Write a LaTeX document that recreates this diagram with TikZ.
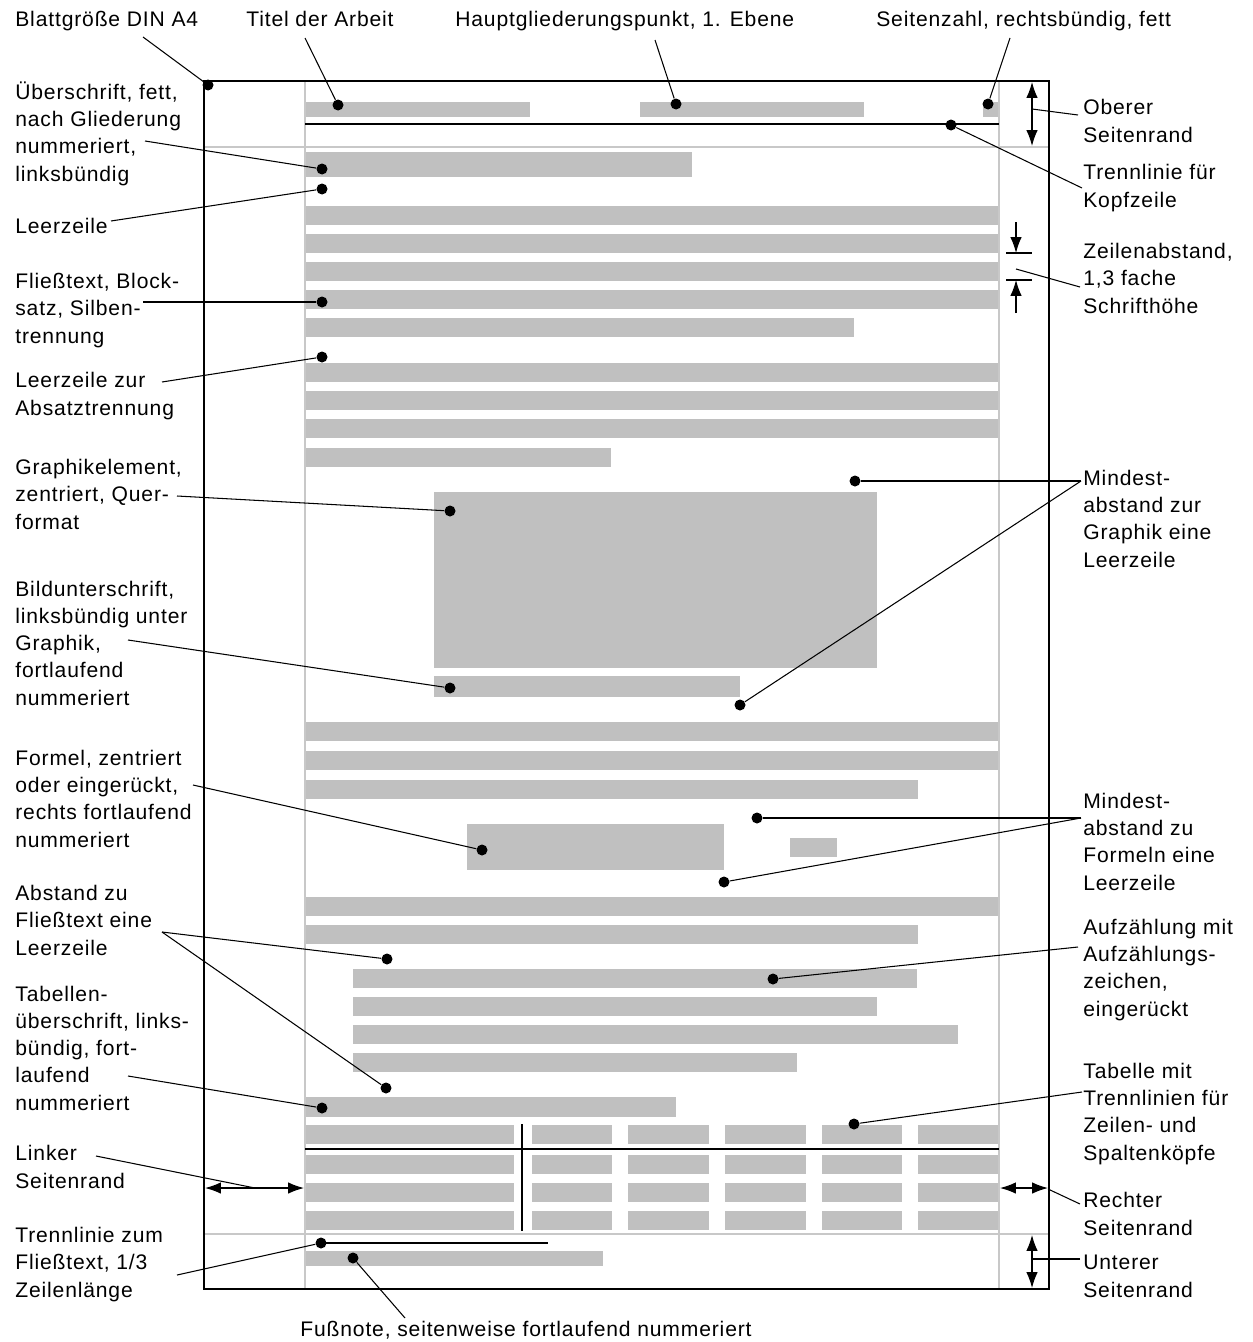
\documentclass[tikz,border=0pt]{standalone}
\usepackage{fontspec}
\setmainfont{Liberation Sans}[LetterSpace=4]
\usepackage{tikz}
\usetikzlibrary{arrows.meta,positioning,calc}

\definecolor{bargray}{RGB}{192,192,192}
\definecolor{guidegray}{RGB}{200,200,200}

\tikzset{
  bar/.style={fill=bargray},
  guide/.style={draw=guidegray, line width=0.6pt},
  dot/.style={circle, fill=black, inner sep=0pt, minimum size=0.22cm},
  lbl/.style={anchor=base west, align=left, inner sep=0pt, font=\fontsize{12pt}{15.5pt}\selectfont},
  lead/.style={draw, line width=0.6pt},
  dimarrow/.style={draw, line width=0.7pt, {Latex[length=9pt,width=6.5pt]}-{Latex[length=9pt,width=6.5pt]}},
  halfarrow/.style={draw, line width=0.7pt, -{Latex[length=9pt,width=6.5pt]}}
}

\begin{document}
\begin{tikzpicture}[x=0.02cm, y=-0.02cm]
        \useasboundingbox (0,0) rectangle (1252,1342);

        % kopfzeile
        \fill[bar] (305,102) rectangle (530,117);
        \fill[bar] (640,102) rectangle (864,117);
        \fill[bar] (983,102) rectangle (999,117);
        % ueberschrift
        \fill[bar] (305,152) rectangle (692,177);
        % fliesstext
        \foreach \ya in {206,234,262,290,363,391,419,722,751,897}
          \fill[bar] (305,\ya) rectangle (999,\ya+19);
        \fill[bar] (305,318) rectangle (854,337);
        \fill[bar] (305,448) rectangle (611,467);
        \fill[bar] (305,780) rectangle (918,799);
        \fill[bar] (305,925) rectangle (918,944);
        % graphik und bildunterschrift
        \fill[bar] (434,492) rectangle (877,668);
        \fill[bar] (434,676) rectangle (740,697);
        % formel
        \fill[bar] (467,824) rectangle (724,870);
        \fill[bar] (790,838) rectangle (837,857);
        % aufzaehlung
        \foreach \ya/\xb in {969/917,997/877,1025/958,1053/797}
          \fill[bar] (353,\ya) rectangle (\xb,\ya+19);
        % tabelle
        \fill[bar] (305,1097) rectangle (676,1117);
        \foreach \ya in {1125,1155,1183,1211}
          \foreach \xa/\xb in {305/514,532/612,628/709,725/806,822/902,918/999}
            \fill[bar] (\xa,\ya) rectangle (\xb,\ya+19);
        % fussnote
        \fill[bar] (305,1251) rectangle (603,1266);

        % satzspiegel
        \draw[guide] (305,81) -- (305,1289);
        \draw[guide] (999,81) -- (999,1289);
        \draw[guide] (204,147) -- (1049,147);
        \draw[guide] (204,1234) -- (1049,1234);
        \draw[line width=0.8pt] (204,81) rectangle (1049,1289);

        % trennlinien
        \draw[line width=1.2pt] (305,124) -- (999,124);
        \draw[line width=1.2pt] (305,1149) -- (999,1149);
        \draw[line width=1.2pt] (522,1124) -- (522,1231);
        \draw[line width=0.9pt] (321,1243) -- (548,1243);

        % raender
        \draw[dimarrow] (1032,82) -- (1032,146);
        \draw[dimarrow] (1032,1235) -- (1032,1288);
        \draw[dimarrow] (205,1188) -- (304,1188);
        \draw[dimarrow] (1000,1188) -- (1048,1188);
        \draw[halfarrow] (1016,222) -- (1016,253);
        \draw[halfarrow] (1016,313) -- (1016,280);
        \draw[line width=0.6pt] (1006,253) -- (1032,253);
        \draw[line width=0.6pt] (1006,280) -- (1032,280);

        % punkte
        \node[dot] (dblatt) at (208,85) {};
        \node[dot] (dtitel) at (338,105) {};
        \node[dot] (dhaupt) at (676,104) {};
        \node[dot] (dseite) at (988,104) {};
        \node[dot] (dkopf) at (951,125) {};
        \node[dot] (dueber) at (322,169) {};
        \node[dot] (dleer) at (322,189) {};
        \node[dot] (dfliess) at (322,302) {};
        \node[dot] (dabsatz) at (322,357) {};
        \node[dot] (dgraph) at (450,511) {};
        \node[dot] (dbild) at (450,688) {};
        \node[dot] (dmgra) at (855,481) {};
        \node[dot] (dmgrb) at (740,705) {};
        \node[dot] (dformel) at (482,850) {};
        \node[dot] (dmfoa) at (757,818) {};
        \node[dot] (dmfob) at (724,882) {};
        \node[dot] (dabsta) at (387,959) {};
        \node[dot] (dabstb) at (386,1088) {};
        \node[dot] (daufz) at (773,979) {};
        \node[dot] (dtabue) at (322,1108) {};
        \node[dot] (dtab) at (854,1124) {};
        \node[dot] (dtrenn) at (321,1243) {};
        \node[dot] (dfuss) at (353,1258) {};

        % beschriftungen oben und unten
        \node[lbl] (blatt) at (15,27) {Blattgröße DIN A4};
        \node[lbl] (titel) at (246,27) {Titel der Arbeit};
        \node[lbl] (haupt) at (455,27) {Hauptgliederungspunkt, 1. Ebene};
        \node[lbl] (seite) at (876,27) {Seitenzahl, rechtsbündig, fett};
        \node[lbl] (fuss) at (300,1336) {Fußnote, seitenweise fortlaufend nummeriert};

        % beschriftungen links (y = grundlinie der letzten zeile)
        \node[lbl] (ueber) at (15,181) {Überschrift, fett,\\nach Gliederung\\nummeriert,\\linksbündig};
        \node[lbl] (leer) at (15,233) {Leerzeile};
        \node[lbl] (fliess) at (15,343) {Fließtext, Block-\\satz, Silben-\\trennung};
        \node[lbl] (absatz) at (15,415) {Leerzeile zur\\Absatztrennung};
        \node[lbl] (graph) at (15,529) {Graphikelement,\\zentriert, Quer-\\format};
        \node[lbl] (bild) at (15,705) {Bildunterschrift,\\linksbündig unter\\Graphik,\\fortlaufend\\nummeriert};
        \node[lbl] (formel) at (15,847) {Formel, zentriert\\oder eingerückt,\\rechts fortlaufend\\nummeriert};
        \node[lbl] (abst) at (15,955) {Abstand zu\\Fließtext eine\\Leerzeile};
        \node[lbl] (tabue) at (15,1110) {Tabellen-\\überschrift, links-\\bündig, fort-\\laufend\\nummeriert};
        \node[lbl] (linker) at (15,1188) {Linker\\Seitenrand};
        \node[lbl] (trenn) at (15,1297) {Trennlinie zum\\Fließtext, 1/3\\Zeilenlänge};

        % beschriftungen rechts
        \node[lbl] (oberer) at (1083,142) {Oberer\\Seitenrand};
        \node[lbl] (kopf) at (1083,207) {Trennlinie für\\Kopfzeile};
        \node[lbl] (zeilen) at (1083,313) {Zeilenabstand,\\1,3 fache\\Schrifthöhe};
        \node[lbl] (mgr) at (1083,567) {Mindest-\\abstand zur\\Graphik eine\\Leerzeile};
        \node[lbl] (mfo) at (1083,890) {Mindest-\\abstand zu\\Formeln eine\\Leerzeile};
        \node[lbl] (aufz) at (1083,1016) {Aufzählung mit\\Aufzählungs-\\zeichen,\\eingerückt};
        \node[lbl] (tab) at (1083,1160) {Tabelle mit\\Trennlinien für\\Zeilen- und\\Spaltenköpfe};
        \node[lbl] (rechter) at (1083,1235) {Rechter\\Seitenrand};
        \node[lbl] (unterer) at (1083,1297) {Unterer\\Seitenrand};

        % ansatzpunkte der hinweislinien
        \coordinate (cblatt) at (143,37);
        \coordinate (ctitel) at (305,38);
        \coordinate (chaupt) at (655,40);
        \coordinate (cseite) at (1010,38);
        \coordinate (cfuss) at (405,1318);
        \coordinate (cueber) at (145,141);
        \coordinate (cleer) at (111,221);
        \coordinate (cfliess) at (143,302);
        \coordinate (cabsatz) at (162,382);
        \coordinate (cgraph) at (177,496);
        \coordinate (cbild) at (128,640);
        \coordinate (cformel) at (193,785);
        \coordinate (cabst) at (162,932);
        \coordinate (ctabue) at (128,1076);
        \coordinate (clinker) at (96,1156);
        \coordinate (clinkerpfeil) at (255,1188);
        \coordinate (ctrenn) at (177,1275);
        \coordinate (coberer) at (1078,115);
        \coordinate (coberpfeil) at (1032,109);
        \coordinate (ckopf) at (1082,188);
        \coordinate (czeilen) at (1080,287);
        \coordinate (czeilenpfeil) at (1016,269);
        \coordinate (cmgr) at (1081,481);
        \coordinate (cmfo) at (1081,818);
        \coordinate (caufz) at (1078,947);
        \coordinate (ctab) at (1082,1092);
        \coordinate (crechter) at (1080,1204);
        \coordinate (crechtpfeil) at (1048,1189);
        \coordinate (cunterer) at (1080,1259);
        \coordinate (cunterpfeil) at (1032,1259);

        % hinweislinien
        \draw[lead] (cblatt) -- (dblatt);
        \draw[lead] (ctitel) -- (dtitel);
        \draw[lead] (chaupt) -- (dhaupt);
        \draw[lead] (cseite) -- (dseite);
        \draw[lead] (cfuss) -- (dfuss);
        \draw[lead] (cueber) -- (dueber);
        \draw[lead] (cleer) -- (dleer);
        \draw[lead] (cfliess) -- (dfliess);
        \draw[lead] (cabsatz) -- (dabsatz);
        \draw[lead] (cgraph) -- (dgraph);
        \draw[lead] (cbild) -- (dbild);
        \draw[lead] (cformel) -- (dformel);
        \draw[lead] (cabst) -- (dabsta);
        \draw[lead] (cabst) -- (dabstb);
        \draw[lead] (ctabue) -- (dtabue);
        \draw[lead] (clinker) -- (clinkerpfeil);
        \draw[lead] (ctrenn) -- (dtrenn);
        \draw[lead] (coberer) -- (coberpfeil);
        \draw[lead] (ckopf) -- (dkopf);
        \draw[lead] (czeilen) -- (czeilenpfeil);
        \draw[lead] (cmgr) -- (dmgra);
        \draw[lead] (cmgr) -- (dmgrb);
        \draw[lead] (cmfo) -- (dmfoa);
        \draw[lead] (cmfo) -- (dmfob);
        \draw[lead] (caufz) -- (daufz);
        \draw[lead] (ctab) -- (dtab);
        \draw[lead] (crechter) -- (crechtpfeil);
        \draw[lead] (cunterer) -- (cunterpfeil);
        \end{tikzpicture}
\end{document}
